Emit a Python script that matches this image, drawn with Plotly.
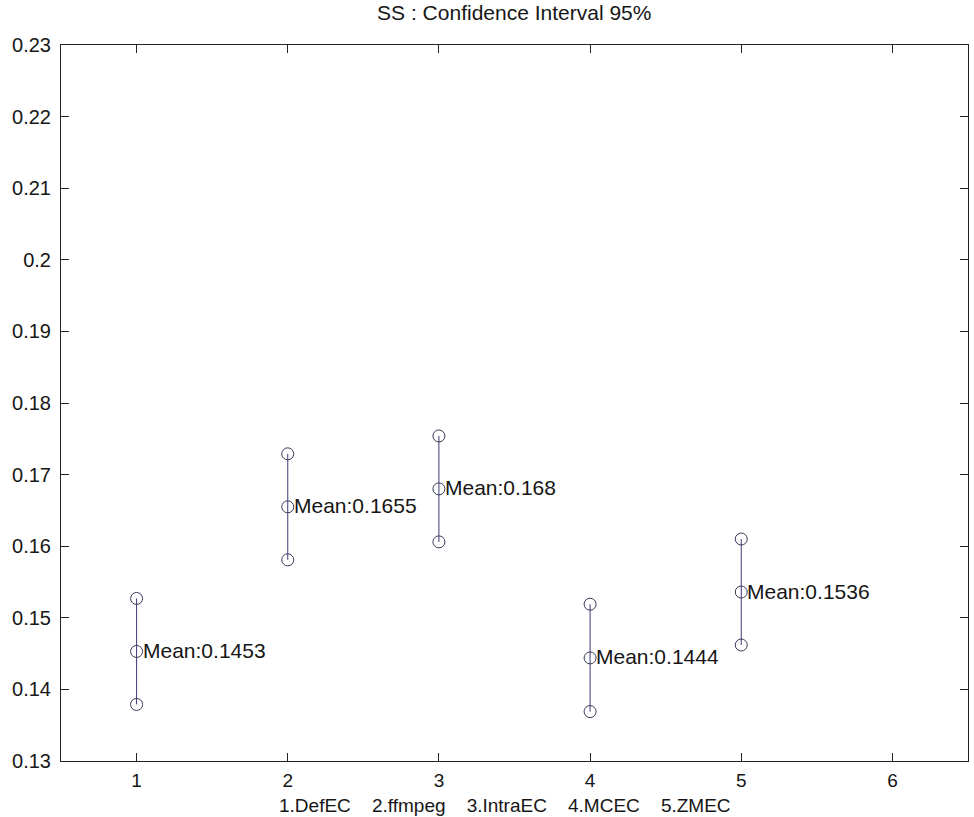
import plotly.graph_objects as go

groups = [1, 2, 3, 4, 5]
means = [0.1453, 0.1655, 0.168, 0.1444, 0.1536]
lower = [0.1379, 0.1581, 0.1606, 0.1369, 0.1462]
upper = [0.1527, 0.1729, 0.1754, 0.1519, 0.1610]
x_ticks = [1, 2, 3, 4, 5, 6]
y_ticks = [0.13, 0.14, 0.15, 0.16, 0.17, 0.18, 0.19, 0.20, 0.21, 0.22, 0.23]
y_tick_text = ["0.13", "0.14", "0.15", "0.16", "0.17", "0.18", "0.19", "0.2", "0.21", "0.22", "0.23"]
title_text = "SS : Confidence Interval 95%"
xlabel_parts = ["1.DefEC", "2.ffmpeg", "3.IntraEC", "4.MCEC", "5.ZMEC"]

FONT = "Liberation Sans, Arial, sans-serif"
TXT = "#161616"
LINE_COLOR = "#3c3c78"
MARK_COLOR = "#3a3a5a"

lx, ly = [], []
for g, lo, hi in zip(groups, lower, upper):
    lx += [g, g, None]
    ly += [lo, hi, None]

mx, my = [], []
for g, lo, m, hi in zip(groups, lower, means, upper):
    mx += [g, g, g]
    my += [lo, m, hi]

fig = go.Figure()
fig.add_trace(go.Scatter(x=lx, y=ly, mode="lines",
                         line=dict(color=LINE_COLOR, width=1), showlegend=False,
                         hoverinfo="skip"))
fig.add_trace(go.Scatter(x=mx, y=my, mode="markers",
                         marker=dict(symbol="circle-open", size=12,
                                     color=MARK_COLOR, line=dict(width=1, color=MARK_COLOR)),
                         showlegend=False))

for g, m in zip(groups, means):
    fig.add_annotation(x=g, y=m, text=f"Mean:{m:g}", showarrow=False,
                       xanchor="left", yanchor="middle", xshift=4, yshift=1,
                       font=dict(family=FONT, size=21, color=TXT))

# x-axis label (MATLAB-style xlabel with wide gaps)
fig.add_annotation(xref="paper", yref="paper", x=0.4895, y=-0.0615,
                   xanchor="center", yanchor="middle", showarrow=False,
                   text="&nbsp;&nbsp;&nbsp;&nbsp;".join(xlabel_parts),
                   font=dict(family=FONT, size=19, color=TXT))

fig.update_layout(
    width=974, height=817,
    margin=dict(l=61, r=6, t=45, b=56),
    paper_bgcolor="white", plot_bgcolor="white",
    font=dict(family=FONT, size=19, color=TXT),
    title=dict(text=title_text, x=0.528, xanchor="center", y=0.984, yanchor="middle",
               font=dict(family=FONT, size=21, color=TXT)),
    showlegend=False,
)
fig.update_xaxes(range=[0.5, 6.5], tickvals=x_ticks, ticks="inside", ticklen=8,
                 showline=True, linecolor="#222222", linewidth=1, mirror="ticks",
                 showgrid=False, zeroline=False, tickcolor="#222222",
                 ticklabelstandoff=2,
                 tickfont=dict(family=FONT, size=19, color=TXT))
fig.update_yaxes(range=[0.13, 0.23], tickvals=y_ticks, ticktext=y_tick_text,
                 ticks="inside", ticklen=8,
                 showline=True, linecolor="#222222", linewidth=1, mirror="ticks",
                 showgrid=False, zeroline=False, tickcolor="#222222",
                 ticklabelstandoff=5,
                 tickfont=dict(family=FONT, size=20, color=TXT))

fig.write_html("out.html")
